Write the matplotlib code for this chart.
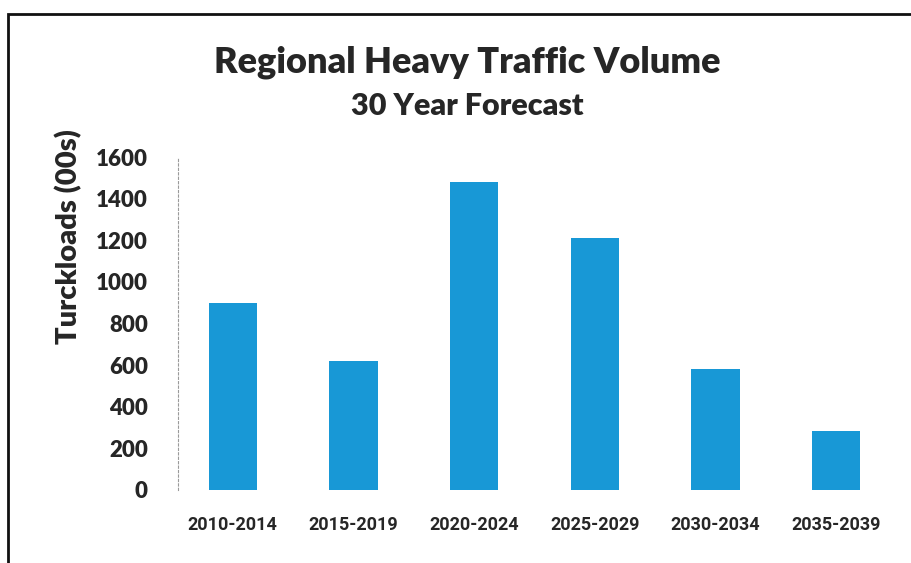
import matplotlib.pyplot as plt
from matplotlib.patches import Rectangle

# ── data ─────────────────────────────────────────────────────────────
periods = ["2010-2014", "2015-2019", "2020-2024", "2025-2029", "2030-2034", "2035-2039"]
truckloads = [900, 620, 1480, 1210, 580, 285]
y_ticks = [0, 200, 400, 600, 800, 1000, 1200, 1400, 1600]

BAR_COLOR = "#1898d6"
TEXT_COLOR = "#262626"

plt.rcParams["font.family"] = ["Lato", "DejaVu Sans"]

fig = plt.figure(figsize=(9.12, 5.63), dpi=100)
ax = fig.add_axes([0.189, 0.13, 0.794, 0.591])

x = range(len(periods))
ax.bar(x, truckloads, width=0.4, color=BAR_COLOR)

ax.set_xlim(-0.5, len(periods) - 0.5)
ax.set_ylim(0, 1600)

# spines first: moving a spine resets the axis tick styling
for side in ["top", "right", "bottom"]:
    ax.spines[side].set_visible(False)
ax.spines["left"].set_position(("data", -0.45))
ax.spines["left"].set_color("#9a9a9a")
ax.spines["left"].set_linewidth(0.8)
ax.spines["left"].set_linestyle((0, (2, 2)))

ax.tick_params(axis="y", length=0, pad=22)
ax.tick_params(axis="x", length=0, pad=19)
ax.set_yticks(y_ticks)
ax.set_yticklabels([str(v) for v in y_ticks], fontsize=16, fontweight="heavy",
                   color=TEXT_COLOR)
ax.set_xticks(list(x))
ax.set_xticklabels(periods, fontsize=13, fontweight="bold", color=TEXT_COLOR,
                   family=["Liberation Sans Narrow", "Roboto", "DejaVu Sans"])

ax.set_ylabel("Turckloads (00s)", fontsize=21, fontweight="heavy",
              color=TEXT_COLOR)
ax.yaxis.set_label_coords(-0.125, 0.76)

fig.text(0.512, 0.89, "Regional Heavy Traffic Volume", ha="center", va="center",
         fontsize=26, fontweight="heavy", color=TEXT_COLOR)
fig.text(0.512, 0.812, "30 Year Forecast", ha="center", va="center",
         fontsize=22, fontweight="heavy", color=TEXT_COLOR)

# outer frame of the page, running off the right and bottom edges
fig.patches.append(Rectangle((8 / 912, -0.05), 1.1, 1 - 14 / 563 + 0.05,
                             transform=fig.transFigure, fill=False,
                             edgecolor="#111111", linewidth=2.0))

fig.savefig("out.png", dpi=100)
